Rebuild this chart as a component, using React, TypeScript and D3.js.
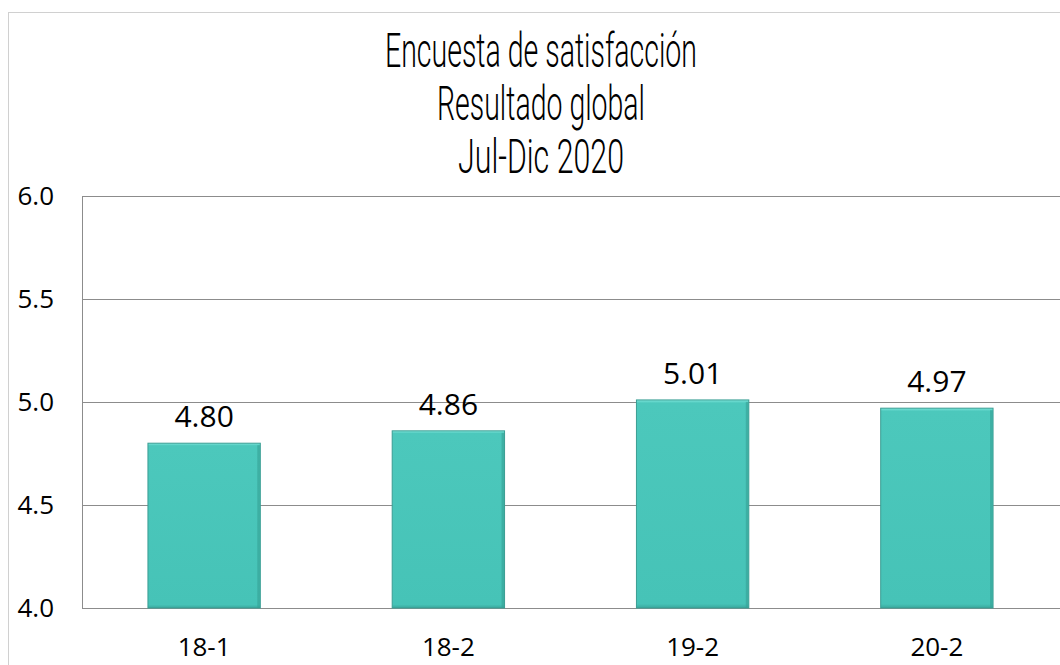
import React, { useEffect, useRef } from "react";
import * as d3 from "d3";

const categories = ["18-1", "18-2", "19-2", "20-2"];
const values = [4.8, 4.86, 5.01, 4.97];
const yTicks = [4.0, 4.5, 5.0, 5.5, 6.0];
const titleLines = ["Encuesta de satisfacción", "Resultado global", "Jul-Dic 2020"];
const titleWidths = [312, 208, 166];

export default function App() {
  const svgRef = useRef<SVGSVGElement>(null);

  useEffect(() => {
    const width = 1060;
    const height = 665;
    const plot = { left: 82, right: 1059, top: 196, bottom: 608 };

    const svg = d3.select(svgRef.current);
    svg.selectAll("*").remove();
    svg.attr("width", width).attr("height", height);

    // bevel gradients for the bars
    const defs = svg.append("defs");
    const grad = defs
      .append("linearGradient")
      .attr("id", "barFill")
      .attr("x1", 0)
      .attr("y1", 0)
      .attr("x2", 0)
      .attr("y2", 1);
    grad.append("stop").attr("offset", "0%").attr("stop-color", "#7fe6dc");
    grad.append("stop").attr("offset", "1.5%").attr("stop-color", "#4cc8bc");
    grad.append("stop").attr("offset", "98%").attr("stop-color", "#46c3b7");
    grad.append("stop").attr("offset", "100%").attr("stop-color", "#3aa89d");

    // outer chart border
    svg
      .append("rect")
      .attr("x", 8.5)
      .attr("y", 12.5)
      .attr("width", width + 10)
      .attr("height", height + 10)
      .attr("fill", "#fff")
      .attr("stroke", "#d0d0d0")
      .attr("stroke-width", 1);

    const x = d3
      .scaleBand()
      .domain(categories)
      .range([plot.left, plot.right])
      .paddingInner(0.54)
      .paddingOuter(0.27);

    const y = d3.scaleLinear().domain([4, 6]).range([plot.bottom, plot.top]);

    // gridlines
    svg
      .append("g")
      .selectAll("line")
      .data(yTicks)
      .join("line")
      .attr("x1", plot.left)
      .attr("x2", width + 5)
      .attr("y1", (d) => Math.round(y(d)) + 0.5)
      .attr("y2", (d) => Math.round(y(d)) + 0.5)
      .attr("stroke", "#8c8c8c")
      .attr("stroke-width", 1);

    // left border of plot area
    svg
      .append("line")
      .attr("x1", plot.left + 0.5)
      .attr("x2", plot.left + 0.5)
      .attr("y1", plot.top)
      .attr("y2", plot.bottom)
      .attr("stroke", "#8c8c8c");

    // bars
    const bars = svg.append("g");
    bars
      .selectAll("rect.bar")
      .data(values)
      .join("rect")
      .attr("class", "bar")
      .attr("x", (_, i) => x(categories[i])!)
      .attr("y", (d) => y(d))
      .attr("width", x.bandwidth())
      .attr("height", (d) => plot.bottom - y(d))
      .attr("fill", "url(#barFill)")
      .attr("stroke", "#3a9d93")
      .attr("stroke-width", 1);

    // side shading for bevel look
    bars
      .selectAll("rect.edge")
      .data(values)
      .join("rect")
      .attr("class", "edge")
      .attr("x", (_, i) => x(categories[i])! + x.bandwidth() - 3)
      .attr("y", (d) => y(d) + 2)
      .attr("width", 2.5)
      .attr("height", (d) => plot.bottom - y(d) - 2)
      .attr("fill", "#36a095")
      .attr("opacity", 0.6);

    // data labels
    svg
      .append("g")
      .selectAll("text")
      .data(values)
      .join("text")
      .attr("x", (_, i) => x(categories[i])! + x.bandwidth() / 2)
      .attr("y", (d) => y(d) - 16)
      .attr("text-anchor", "middle")
      .attr("font-family", "'Open Sans', sans-serif")
      .attr("font-size", 30)
      .attr("fill", "#000")
      .text((d) => d.toFixed(2));

    // y axis labels
    svg
      .append("g")
      .selectAll("text")
      .data(yTicks)
      .join("text")
      .attr("x", 54)
      .attr("y", (d) => y(d))
      .attr("dy", "0.36em")
      .attr("text-anchor", "end")
      .attr("font-family", "'Open Sans', sans-serif")
      .attr("font-size", 26)
      .attr("fill", "#000")
      .text((d) => d3.format(".1f")(d));

    // x axis labels
    svg
      .append("g")
      .selectAll("text")
      .data(categories)
      .join("text")
      .attr("x", (d) => x(d)! + x.bandwidth() / 2)
      .attr("y", 656)
      .attr("text-anchor", "middle")
      .attr("font-family", "'Open Sans', sans-serif")
      .attr("font-size", 26)
      .attr("fill", "#000")
      .text((d) => d);

    // title
    svg
      .append("g")
      .selectAll("text")
      .data(titleLines)
      .join("text")
      .attr("x", 541)
      .attr("y", (_, i) => 67 + i * 53)
      .attr("text-anchor", "middle")
      .attr("font-family", "Roboto, 'DejaVu Sans', sans-serif")
      .attr("font-weight", 300)
      .attr("font-size", 48)
      .attr("textLength", (_, i) => titleWidths[i])
      .attr("lengthAdjust", "spacingAndGlyphs")
      .attr("fill", "#000")
      .text((d) => d);
  }, []);

  return (
    <svg
      ref={svgRef}
      style={{ position: "absolute", left: 0, top: 0, display: "block" }}
    ></svg>
  );
}
